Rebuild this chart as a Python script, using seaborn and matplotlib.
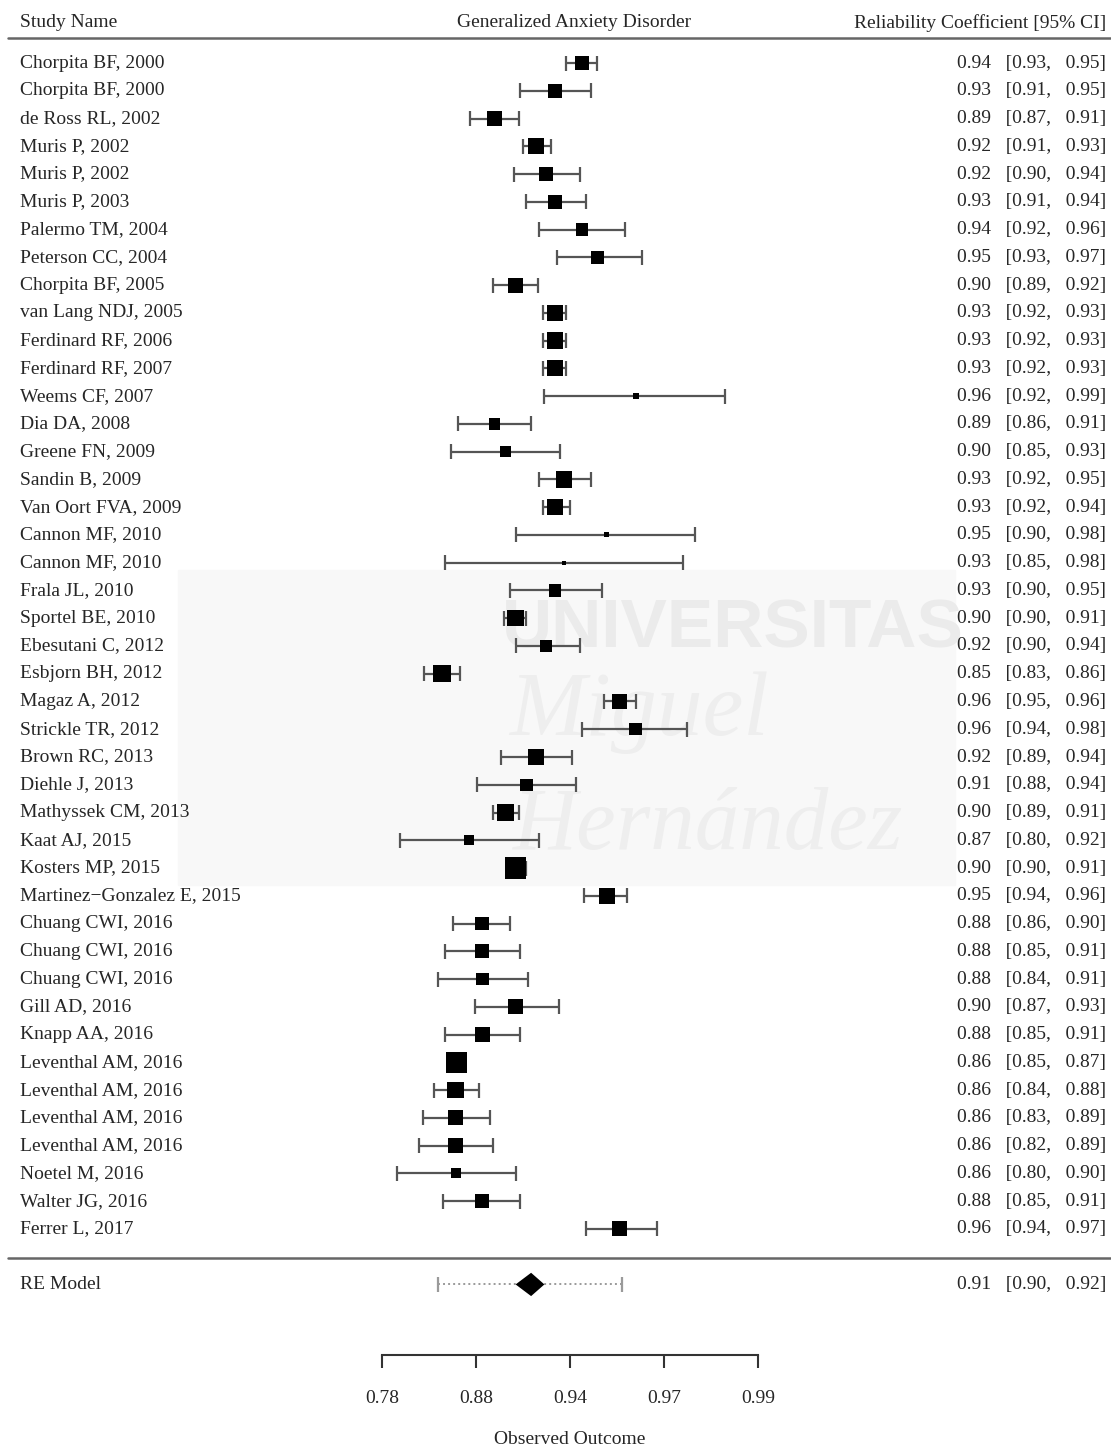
import numpy as np
import pandas as pd
import matplotlib.pyplot as plt
import seaborn as sns


studies = ["Chorpita BF, 2000", "Chorpita BF, 2000", "de Ross RL, 2002", "Muris P, 2002",
           "Muris P, 2002", "Muris P, 2003", "Palermo TM, 2004", "Peterson CC, 2004",
           "Chorpita BF, 2005", "van Lang NDJ, 2005", "Ferdinard RF, 2006", "Ferdinard RF, 2007",
           "Weems CF, 2007", "Dia DA, 2008", "Greene FN, 2009", "Sandin B, 2009",
           "Van Oort FVA, 2009", "Cannon MF, 2010", "Cannon MF, 2010", "Frala JL, 2010",
           "Sportel BE, 2010", "Ebesutani C, 2012", "Esbjorn BH, 2012", "Magaz A, 2012",
           "Strickle TR, 2012", "Brown RC, 2013", "Diehle J, 2013", "Mathyssek CM, 2013",
           "Kaat AJ, 2015", "Kosters MP, 2015", "Martinez\u2212Gonzalez E, 2015",
           "Chuang CWI, 2016", "Chuang CWI, 2016", "Chuang CWI, 2016", "Gill AD, 2016",
           "Knapp AA, 2016", "Leventhal AM, 2016", "Leventhal AM, 2016", "Leventhal AM, 2016",
           "Leventhal AM, 2016", "Noetel M, 2016", "Walter JG, 2016", "Ferrer L, 2017"]

est = [0.942, 0.928, 0.889, 0.917, 0.923, 0.928, 0.942, 0.949, 0.904, 0.928,
       0.928, 0.928, 0.964, 0.889, 0.897, 0.933, 0.928, 0.953, 0.933, 0.928,
       0.904, 0.923, 0.846, 0.958, 0.964, 0.917, 0.911, 0.897, 0.869, 0.904,
       0.953, 0.880, 0.880, 0.880, 0.904, 0.880, 0.859, 0.858, 0.858, 0.858,
       0.858, 0.880, 0.958]

ci_lo = [0.934, 0.907, 0.870, 0.909, 0.903, 0.911, 0.919, 0.929, 0.888, 0.921,
         0.921, 0.921, 0.922, 0.860, 0.854, 0.919, 0.921, 0.904, 0.849, 0.900,
         0.896, 0.904, 0.829, 0.952, 0.942, 0.894, 0.876, 0.888, 0.804, 0.899,
         0.943, 0.856, 0.849, 0.842, 0.874, 0.849, 0.852, 0.838, 0.828, 0.824,
         0.801, 0.847, 0.944]

ci_hi = [0.949, 0.946, 0.906, 0.926, 0.941, 0.944, 0.960, 0.966, 0.918, 0.934,
         0.934, 0.934, 0.987, 0.914, 0.931, 0.946, 0.936, 0.981, 0.978, 0.951,
         0.911, 0.941, 0.862, 0.964, 0.979, 0.937, 0.939, 0.906, 0.919, 0.911,
         0.961, 0.900, 0.907, 0.912, 0.930, 0.907, 0.866, 0.877, 0.886, 0.888,
         0.904, 0.907, 0.971]

# relative study weights (drive the square size)
weights = [11, 11, 12, 13, 11, 11, 10, 10, 12, 13,
           13, 13, 5, 9, 9, 13, 13, 4, 3, 10,
           13, 9, 14, 12, 10, 13, 10, 13, 8, 17,
           13, 11, 11, 10, 12, 12, 17, 13, 12, 12,
           8, 11, 12]

re_est, re_lo, re_hi = 0.914, 0.904, 0.922
pi_lo, pi_hi = 0.842, 0.959

# axis ticks on the transformed scale
tick_pos = [-0.6, -0.5, -0.4, -0.3, -0.2]


def hw(r):
    # Hakstian-Whalen transform, sign flipped so bigger alpha is further right
    return -(1 - np.asarray(r, dtype=float)) ** (1 / 3)


def back(t):
    return 1 - (-t) ** 3


sns.set_theme(style="white")
plt.rcParams['font.family'] = ['Liberation Serif', 'DejaVu Serif']

k = len(studies)
df = pd.DataFrame({'study': studies, 'yi': hw(est), 'lo': hw(ci_lo), 'hi': hw(ci_hi),
                   'w': weights})
df['row'] = np.arange(k, 0, -1)
df['s'] = (df['w'] * 0.9) ** 2

fig = plt.figure(figsize=(11.11, 14.46), dpi=100)
ax = fig.add_axes([0, 0, 1, 1])
ax.set_zorder(1)
ax.patch.set_alpha(0)
ax.set_xlim(-1.0064, 0.1755)
ax.set_ylim(-6.82, 45.27)

# faint watermark behind everything
fig.patches.append(plt.Rectangle((0.160, 0.388), 0.70, 0.218, transform=fig.transFigure,
                                 color='#f8f8f8', zorder=0))
fig.text(0.66, 0.565, "UNIVERSITAS", family='Liberation Sans', weight='bold', fontsize=50,
         color='#ebebeb', ha='center', va='center', zorder=0.5)
fig.text(0.575, 0.507, "Miguel", style='italic', fontsize=66, color='#eeeeee',
         ha='center', va='center', zorder=0.5)
fig.text(0.637, 0.428, "Hern\u00e1ndez", style='italic', fontsize=64, color='#eeeeee',
         ha='center', va='center', zorder=0.5)

fs = 14
lc = '#555555'
cap = 0.27

# confidence intervals
ax.hlines(df['row'], df['lo'], df['hi'], color=lc, lw=1.6, zorder=2)
ax.vlines(df['lo'], df['row'] - cap, df['row'] + cap, color=lc, lw=1.6, zorder=2)
ax.vlines(df['hi'], df['row'] - cap, df['row'] + cap, color=lc, lw=1.6, zorder=2)

smin, smax = df['s'].min(), df['s'].max()
sns.scatterplot(data=df, x='yi', y='row', size='s', sizes=(smin, smax), size_norm=(smin, smax),
                marker='s', color='black', edgecolor='none', linewidth=0, legend=False,
                ax=ax, zorder=3)

# RE model: prediction interval + diamond
ax.hlines(-1, hw(pi_lo), hw(pi_hi), color='#9a9a9a', lw=1.4, linestyles=(0, (1, 1.6)), zorder=2)
ax.vlines([hw(pi_lo), hw(pi_hi)], -1 - 0.27, -1 + 0.27, color='#9a9a9a', lw=1.6, zorder=2)
ax.fill([hw(re_lo), hw(re_est), hw(re_hi), hw(re_est)], [-1, -1 + 0.42, -1, -1 - 0.42],
        color='black', lw=0, zorder=3)

tr = ax.get_yaxis_transform()
for _, r in df.iterrows():
    ax.text(0.018, r['row'], r['study'], transform=tr, ha='left', va='center', fontsize=fs)
for i in range(k):
    ax.text(0.9955, df['row'][i], f"{est[i]:.2f}   [{ci_lo[i]:.2f},   {ci_hi[i]:.2f}]",
            transform=tr, ha='right', va='center', fontsize=fs)
ax.text(0.018, -1, "RE Model", transform=tr, ha='left', va='center', fontsize=fs)
ax.text(0.9955, -1, f"{re_est:.2f}   [{re_lo:.2f},   {re_hi:.2f}]", transform=tr,
        ha='right', va='center', fontsize=fs)

# header
ax.text(0.018, 44.45, "Study Name", transform=tr, ha='left', va='center', fontsize=fs)
ax.text(0.517, 44.45, "Generalized Anxiety Disorder", transform=tr, ha='center', va='center',
        fontsize=fs)
ax.text(0.9955, 44.45, "Reliability Coefficient [95% CI]", transform=tr, ha='right',
        va='center', fontsize=fs)
ax.axhline(43.9, xmin=0.007, xmax=1, color='#666666', lw=1.8)
ax.axhline(-0.05, xmin=0.007, xmax=1, color='#666666', lw=1.8)

# x axis
for sp in ['left', 'top', 'right']:
    ax.spines[sp].set_visible(False)
ax.spines['bottom'].set_position(('data', -3.54))
ax.spines['bottom'].set_bounds(tick_pos[0], tick_pos[-1])
ax.spines['bottom'].set_linewidth(1.5)
ax.spines['bottom'].set_color('#333333')
ax.set_xticks(tick_pos)
ax.set_xticklabels([f"{back(t):.2f}" for t in tick_pos])
ax.tick_params(axis='x', bottom=True, direction='out', length=9.5, width=1.5,
               color='#333333', pad=16, labelsize=fs)
ax.set_yticks([])
ax.set_xlabel("")
ax.set_ylabel("")
ax.text(-0.4, -6.6, "Observed Outcome", ha='center', va='center', fontsize=fs)

fig.savefig("out.png", dpi=100)
